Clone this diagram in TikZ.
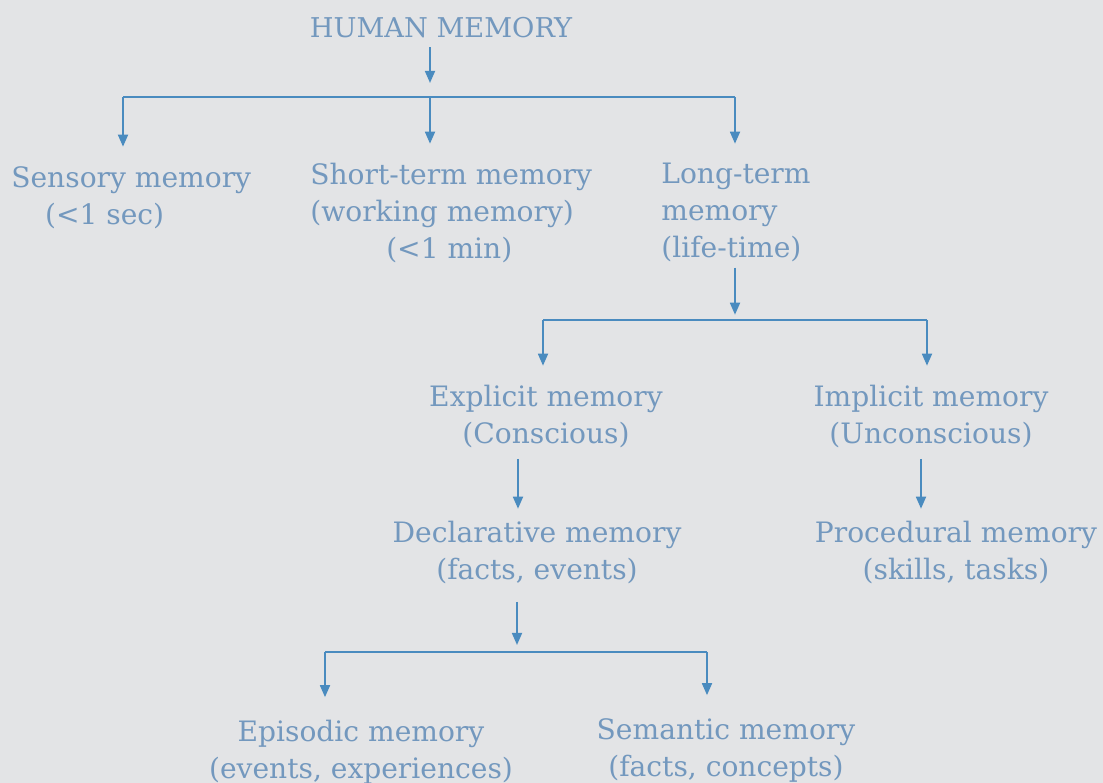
\documentclass[tikz,border=0pt]{standalone}
\usepackage{fontspec}
\setmainfont{DejaVu Serif}
\usetikzlibrary{arrows.meta, positioning, calc}
\definecolor{cInk}{HTML}{7398BE}
\definecolor{cLine}{HTML}{4A8BBF}
\definecolor{cPaper}{HTML}{E3E4E6}

\begin{document}
\begin{tikzpicture}[x=0.02cm, y=-0.02cm,
  lbl/.style={inner sep=0pt, text=cInk, font=\fontsize{16}{21}\selectfont, align=center},
  arr/.style={-{Triangle[length=2.4mm, width=2mm]}, cLine, line width=1pt},
  bar/.style={cLine, line width=1pt}
]
\fill[cPaper] (0,0) rectangle (1103,783);
\useasboundingbox (0,0) rectangle (1103,783);

% top level
\node[lbl, font=\fontsize{15.5}{21}\selectfont] (hm) at (441,28) {HUMAN MEMORY};
\node[lbl, align=left, anchor=north west] (sens) at (11,166) {Sensory memory\\\hspace*{1.2em}(<1 sec)};
\node[lbl, align=left, anchor=north west] (stm) at (310,163) {Short-term memory\\(working memory)\\\hspace*{2.7em}(<1 min)};
\node[lbl, align=left, anchor=north west] (ltm) at (661,163) {Long-term\\memory\\(life-time)};

% long-term split
\node[lbl, anchor=north] (exp) at (546,385) {Explicit memory\\(Conscious)};
\node[lbl, anchor=north] (imp) at (931,385) {Implicit memory\\(Unconscious)};
\node[lbl, anchor=north] (decl) at (537,521) {Declarative memory\\(facts, events)};
\node[lbl, anchor=north] (proc) at (956,521) {Procedural memory\\(skills, tasks)};

% declarative split
\node[lbl, anchor=north] (epi) at (361,720) {Episodic memory\\(events, experiences)};
\node[lbl, anchor=north] (sem) at (726,718) {Semantic memory\\(facts, concepts)};

% junctions
\coordinate (j1) at (430,97);
\coordinate (j1l) at (123,97);
\coordinate (j1r) at (735,97);
\coordinate (j2) at (735,320);
\coordinate (j2l) at (543,320);
\coordinate (j2r) at (927,320);
\coordinate (j3) at (517,652);
\coordinate (j3l) at (325,652);
\coordinate (j3r) at (707,652);

\draw[arr, shorten <=5pt, shorten >=8pt] (hm.south -| j1) -- (j1);
\draw[bar] (j1l) -- (j1r);
\draw[arr, shorten >=11pt] (j1l) -- (j1l |- sens.north);
\draw[arr, shorten >=11pt] (j1) -- (j1 |- stm.north);
\draw[arr, shorten >=11pt] (j1r) -- (j1r |- ltm.north);

\draw[arr, shorten <=3pt, shorten >=3pt] (ltm.south -| j2) -- (j2);
\draw[bar] (j2l) -- (j2r);
\draw[arr, shorten >=11pt] (j2l) -- (j2l |- exp.north);
\draw[arr, shorten >=11pt] (j2r) -- (j2r |- imp.north);

\draw[arr, shorten <=6pt, shorten >=7pt] ($(exp.south)+(-28,0)$) -- ($(decl.north)+(-19,0)$);
\draw[arr, shorten <=6pt, shorten >=7pt] ($(imp.south)+(-10,0)$) -- ($(proc.north)+(-35,0)$);

\draw[arr, shorten <=10pt, shorten >=4pt] (decl.south -| j3) -- (j3);
\draw[bar] (j3l) -- (j3r);
\draw[arr, shorten >=13pt] (j3l) -- (j3l |- epi.north);
\draw[arr, shorten >=13pt] (j3r) -- (j3r |- sem.north);
\end{tikzpicture}
\end{document}
